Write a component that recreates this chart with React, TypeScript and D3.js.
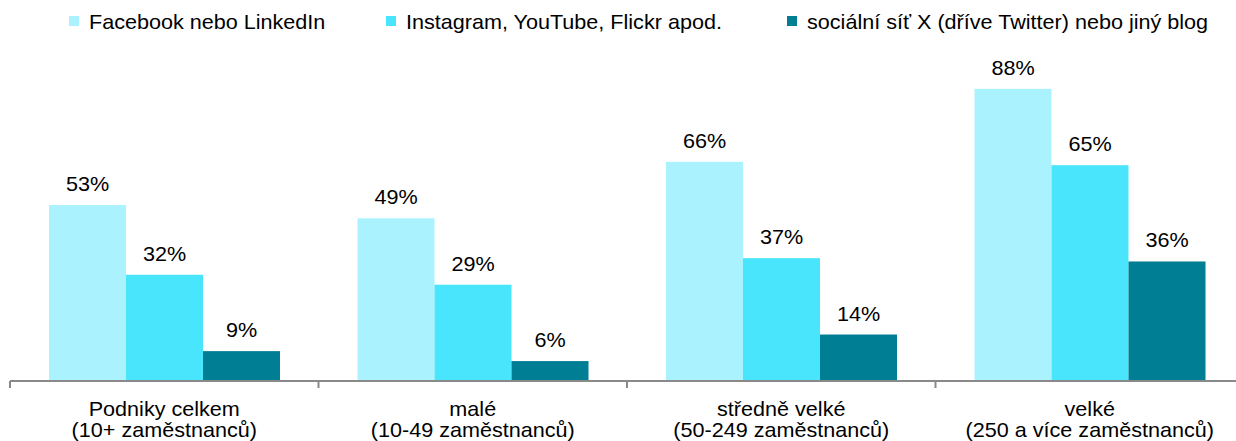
import React from "react";
import * as d3 from "d3";

const categories = [
  ["Podniky celkem", "(10+ zaměstnanců)"],
  ["malé", "(10-49 zaměstnanců)"],
  ["středně velké", "(50-249 zaměstnanců)"],
  ["velké", "(250 a více zaměstnanců)"],
];
const seriesNames = [
  "Facebook nebo LinkedIn",
  "Instagram, YouTube, Flickr apod.",
  "sociální síť X (dříve Twitter) nebo jiný blog",
];
const facebook = [53, 49, 66, 88];
const instagram = [32, 29, 37, 65];
const twitter = [9, 6, 14, 36];
const colors = ["#AAF3FE", "#48E5FD", "#007E93"];

const W = 1236;
const H = 441;
const FONT = "'Liberation Sans', Arial, sans-serif";
const SX = 1.08;

function T({ x, y, anchor = "start", children }: { x: number; y: number; anchor?: string; children: React.ReactNode }) {
  return (
    <text transform={`translate(${x},${y}) scale(${SX},1)`} fontSize={20} textAnchor={anchor} fill="#000">
      {children}
    </text>
  );
}

export default function App() {
  const series = [facebook, instagram, twitter];
  const catIdx = categories.map((_, i) => String(i));
  const x0 = d3.scaleBand<string>().domain(catIdx).range([10, 1244]).paddingInner(0).paddingOuter(0);
  const x1 = d3.scaleBand<string>().domain(["0", "1", "2"]).range([39, 270]).padding(0);
  const y = d3.scaleLinear().domain([0, 100]).range([381, 49]);
  const legendX = [69, 386, 787];

  return (
    <svg width={W} height={H} style={{ position: "absolute", left: 0, top: 0 }} fontFamily={FONT}>
      <rect width={W} height={H} fill="#fff" />
      {seriesNames.map((s, i) => (
        <g key={s}>
          <rect x={legendX[i]} y={16} width={10} height={10} fill={colors[i]} />
          <T x={legendX[i] + 20} y={29}>{s}</T>
        </g>
      ))}
      {categories.map((c, ci) => (
        <g key={ci} transform={`translate(${x0(String(ci))},0)`}>
          {series.map((vals, si) => {
            const bx = x1(String(si))!;
            const v = vals[ci];
            return (
              <g key={si}>
                <rect x={bx} y={y(v)} width={x1.bandwidth()} height={y(0) - y(v)} fill={colors[si]} />
                <T x={bx + x1.bandwidth() / 2} y={y(v) - 14} anchor="middle">{v}%</T>
              </g>
            );
          })}
          <T x={x0.bandwidth() / 2} y={416} anchor="middle">{c[0]}</T>
          <T x={x0.bandwidth() / 2} y={437} anchor="middle">{c[1]}</T>
        </g>
      ))}
      <line x1={10} x2={1244} y1={381} y2={381} stroke="#898989" strokeWidth={2} />
      {d3.range(categories.length + 1).map((i) => {
        const tx = 10 + i * x0.bandwidth();
        return <line key={i} x1={tx} x2={tx} y1={381} y2={388} stroke="#898989" strokeWidth={2} />;
      })}
    </svg>
  );
}
